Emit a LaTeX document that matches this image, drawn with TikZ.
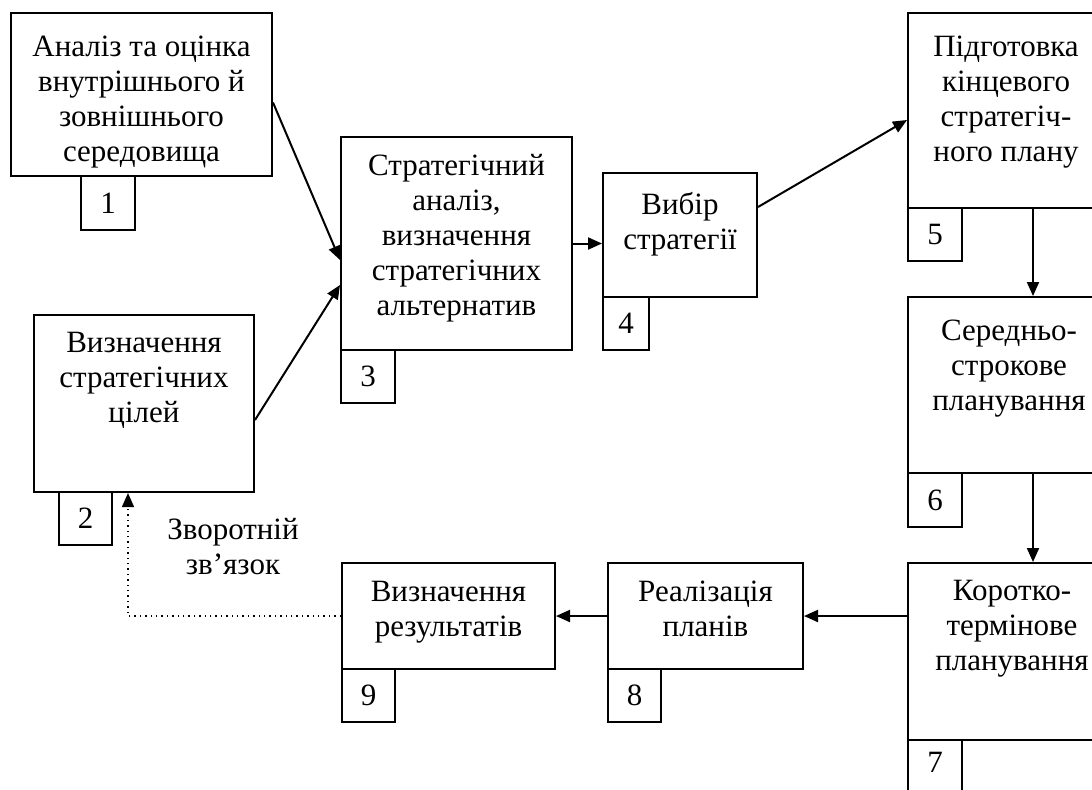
\documentclass[tikz,border=0pt]{standalone}
\usepackage{fontspec}
\setmainfont{Liberation Serif}
\usetikzlibrary{arrows.meta,fit,calc}
\begin{document}
\begin{tikzpicture}[x=0.5pt,y=-0.5pt,
 box/.style={draw,line width=1pt,inner sep=0pt,rectangle},
 txt/.style={anchor=north,align=center,inner sep=0pt,font=\fontsize{15.5}{17.5}\selectfont,execute at begin node=\strut},
 num/.style={inner sep=0pt,font=\fontsize{15.5}{17.5}\selectfont},
 arr/.style={line width=1pt,-{Triangle[length=7pt,width=6pt]}},
 fbk/.style={dotted,line width=0.7pt,-{Triangle[length=7pt,width=6pt]}}]
\useasboundingbox (0,0) rectangle (1092,789);
\clip (0,0) rectangle (1092,789);
% main boxes
\node[box,fit={(11,13)(272,176)}] (b1) {};
\node[box,fit={(34,315)(254,492)}] (b2) {};
\node[box,fit={(341,137)(572,350)}] (b3) {};
\node[box,fit={(603,173)(757,297)}] (b4) {};
\node[box,fit={(908,13)(1116,208)}] (b5) {};
\node[box,fit={(908,297)(1116,473)}] (b6) {};
\node[box,fit={(908,563)(1116,740)}] (b7) {};
\node[box,fit={(608,563)(803,669)}] (b8) {};
\node[box,fit={(342,563)(555,669)}] (b9) {};
% number boxes
\node[box,fit={(81,176)(135,230)}] (n1) {};
\node[box,fit={(59,492)(112,545)}] (n2) {};
\node[box,fit={(341,350)(395,403)}] (n3) {};
\node[box,fit={(603,297)(649,350)}] (n4) {};
\node[box,fit={(908,208)(962,261)}] (n5) {};
\node[box,fit={(908,473)(962,527)}] (n6) {};
\node[box,fit={(908,740)(962,793)}] (n7) {};
\node[box,fit={(608,669)(661,722)}] (n8) {};
\node[box,fit={(342,669)(395,722)}] (n9) {};
\node[num] (d1) at (n1.center) {1};
\node[num] (d2) at (n2.center) {2};
\node[num] (d3) at (n3.center) {3};
\node[num] (d4) at (n4.center) {4};
\node[num] (d5) at (n5.center) {5};
\node[num] (d6) at (n6.center) {6};
\node[num] (d7) at ($(n7.center)+(0,-4)$) {7};
\node[num] (d8) at (n8.center) {8};
\node[num] (d9) at (n9.center) {9};
% texts
\node[txt] (t1) at ($(b1.north)+(0,24)$) {Аналіз та оцінка\\внутрішнього й\\зовнішнього\\середовища};
\node[txt] (t2) at ($(b2.north)+(0,18)$) {Визначення\\стратегічних\\цілей};
\node[txt] (t3) at ($(b3.north)+(0,18)$) {Стратегічний\\аналіз,\\визначення\\стратегічних\\альтернатив};
\node[txt] (t4) at ($(b4.north)+(0,20)$) {Вибір\\стратегії};
\node[txt] (t5) at ($(b5.north)+(-6,24)$) {Підготовка\\кінцевого\\стратегіч-\\ного плану};
\node[txt] (t6) at ($(b6.north)+(-3,24)$) {Середньо-\\строкове\\планування};
\node[txt] (t7) at ($(b7.north)+(0,18)$) {Коротко-\\термінове\\планування};
\node[txt] (t8) at ($(b8.north)+(0,19)$) {Реалізація\\планів};
\node[txt] (t9) at ($(b9.north)+(0,19)$) {Визначення\\результатів};
\node[txt] (tf) at (233,518) {Зворотній\\зв’язок};
% connectors
\draw[arr] ($(b1.east)+(0,8)$) -- ($(b3.west)+(0,16.5)$);
\draw[arr] ($(b2.east)+(0,16.5)$) -- ($(b3.west)+(0,41.5)$);
\draw[arr] (b3.east) -- (b3.east -| b4.west);
\draw[arr] ($(b4.east)+(0,-28)$) -- ($(b5.west)+(0,9.5)$);
\draw[arr] ($(b5.south)+(21,0)$) -- ($(b6.north)+(21,0)$);
\draw[arr] ($(b6.south)+(21,0)$) -- ($(b7.north)+(21,0)$);
\draw[arr] (b8.east -| b7.west) -- (b8.east);
\draw[arr] (b8.west) -- (b9.east);
\coordinate (fb) at ($(b2.south west)+(95,0)$);
\draw[fbk] (b9.west) -| (fb);
\end{tikzpicture}
\end{document}
